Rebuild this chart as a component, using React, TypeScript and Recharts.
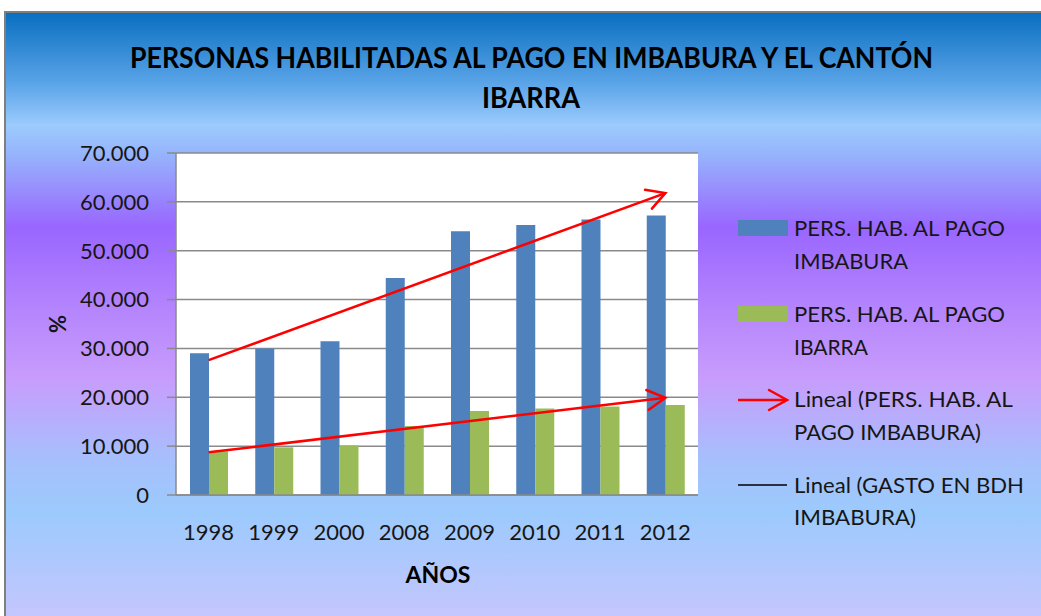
import { ComposedChart, Bar, Line, XAxis, YAxis, CartesianGrid } from 'recharts';

const years = ['1998', '1999', '2000', '2008', '2009', '2010', '2011', '2012'];
const imbabura = [29000, 30000, 31450, 44400, 54000, 55260, 56400, 57200];
const ibarra = [8940, 9760, 10170, 14100, 17200, 17700, 18100, 18400];
// trend lines: only the two ends, drawn straight between them
const trendImbabura = [27600, null, null, null, null, null, null, 61800];
const trendIbarra = [8740, null, null, null, null, null, null, 19900];
const yTicks = [0, 10000, 20000, 30000, 40000, 50000, 60000, 70000];

const data = years.map((year, i) => ({
  year,
  imbabura: imbabura[i],
  ibarra: ibarra[i],
  trendA: trendImbabura[i],
  trendB: trendIbarra[i],
}));

const FONT = 'Lato, "Open Sans", sans-serif';
const TEXT = '#161616';
const GRID = '#8a8a8a';

const BACKGROUND =
  'linear-gradient(180deg, #0a6fc0 0%, #5aa4e8 11%, #9ccbfd 17.5%, #96b4fc 22%, #9966ff 33.5%, #b282fd 45%, #c89cfc 57%, #a6c0fc 70%, #9ccafd 78%, #c6c6fd 95%)';

const fmt = (v: number) => (v === 0 ? '0' : (v / 1000).toFixed(3));

export default function App() {
  return (
    <div
      style={{
        position: 'absolute',
        left: 0,
        top: 0,
        width: 1041,
        height: 616,
        overflow: 'hidden',
        background: '#fff',
        fontFamily: FONT,
      }}
    >
      <div
        style={{
          position: 'absolute',
          left: 4,
          top: 11,
          width: 1060,
          height: 640,
          border: '2px solid #7f7f7f',
          background: BACKGROUND,
        }}
      />

      <svg width={0} height={0} style={{ position: 'absolute' }}>
        <defs>
          <marker
            id="arrowRed"
            markerUnits="userSpaceOnUse"
            markerWidth={30}
            markerHeight={30}
            viewBox="-25 -15 30 30"
            refX={0}
            refY={0}
            orient="auto"
            overflow="visible"
          >
            <path d="M -18 -10 L 0 0 L -18 10" fill="none" stroke="#ff0000" strokeWidth={2.5} strokeLinecap="round" />
          </marker>
        </defs>
      </svg>

      <div style={{ position: 'absolute', left: 0, top: 0 }}>
        <ComposedChart
          width={1041}
          height={616}
          data={data}
          margin={{ top: 153, right: 343, bottom: 61, left: 0 }}
          barGap={0}
          barSize={19}
        >
          <CartesianGrid vertical={false} stroke={GRID} strokeWidth={1.5} fill="#ffffff" />
          <XAxis
            dataKey="year"
            height={60}
            axisLine={{ stroke: GRID, strokeWidth: 1.5 }}
            tickLine={false}
            tickSize={0}
            tickMargin={29}
            tick={{ fontSize: 22, fill: TEXT, fontFamily: FONT }}
            interval={0}
          />
          <YAxis
            width={176}
            domain={[0, 70000]}
            ticks={yTicks}
            tickFormatter={fmt}
            axisLine={{ stroke: GRID, strokeWidth: 1.5 }}
            tickLine={{ stroke: GRID, strokeWidth: 1.5 }}
            tickSize={9}
            tickMargin={18}
            tick={{ fontSize: 22, fill: TEXT, fontFamily: FONT }}
            interval={0}
          />
          <Bar dataKey="imbabura" fill="#4f81bd" isAnimationActive={false} />
          <Bar dataKey="ibarra" fill="#9bbb59" isAnimationActive={false} />
          <Line
            dataKey="trendA"
            stroke="#ff0000"
            strokeWidth={2.5}
            dot={false}
            activeDot={false}
            connectNulls
            markerEnd="url(#arrowRed)"
            isAnimationActive={false}
          />
          <Line
            dataKey="trendB"
            stroke="#ff0000"
            strokeWidth={2.5}
            dot={false}
            activeDot={false}
            connectNulls
            markerEnd="url(#arrowRed)"
            isAnimationActive={false}
          />
        </ComposedChart>
      </div>

      {/* titles and legend */}
      <svg
        width={1041}
        height={616}
        style={{ position: 'absolute', left: 0, top: 0, pointerEvents: 'none' }}
        fontFamily={FONT}
      >
        <text x={130} y={68} fontSize={28} fontWeight="bold" fill="#000" textLength={803} lengthAdjust="spacingAndGlyphs">
          PERSONAS HABILITADAS AL PAGO EN IMBABURA Y EL CANTÓN
        </text>
        <text x={482} y={108} fontSize={28} fontWeight="bold" fill="#000" textLength={98} lengthAdjust="spacingAndGlyphs">
          IBARRA
        </text>

        <text x={438} y={583} fontSize={23} fontWeight="bold" fill="#000" textAnchor="middle">
          AÑOS
        </text>
        <text x={57} y={324} fontSize={22} fontWeight="bold" fill={TEXT} textAnchor="middle" dominantBaseline="central" transform="rotate(-90 57 324)">
          %
        </text>

        <g fontSize={22} fill={TEXT}>
          <rect x={738} y={220} width={50} height={16} fill="#4f81bd" />
          <text x={794} y={236} textLength={211} lengthAdjust="spacingAndGlyphs">PERS. HAB. AL PAGO</text>
          <text x={794} y={269} textLength={114} lengthAdjust="spacingAndGlyphs">IMBABURA</text>

          <rect x={738} y={306} width={50} height={16} fill="#9bbb59" />
          <text x={794} y={322} textLength={211} lengthAdjust="spacingAndGlyphs">PERS. HAB. AL PAGO</text>
          <text x={794} y={355} textLength={74} lengthAdjust="spacingAndGlyphs">IBARRA</text>

          <line x1={738} y1={400} x2={787} y2={400} stroke="#ff0000" strokeWidth={2.5} markerEnd="url(#arrowRed)" />
          <text x={794} y={407} textLength={219} lengthAdjust="spacingAndGlyphs">Lineal (PERS. HAB. AL</text>
          <text x={794} y={440} textLength={187} lengthAdjust="spacingAndGlyphs">PAGO IMBABURA)</text>

          <line x1={738} y1={485} x2={787} y2={485} stroke="#000" strokeWidth={1.5} />
          <text x={794} y={493} textLength={230} lengthAdjust="spacingAndGlyphs">Lineal (GASTO EN BDH</text>
          <text x={794} y={525} textLength={122} lengthAdjust="spacingAndGlyphs">IMBABURA)</text>
        </g>
      </svg>
    </div>
  );
}
